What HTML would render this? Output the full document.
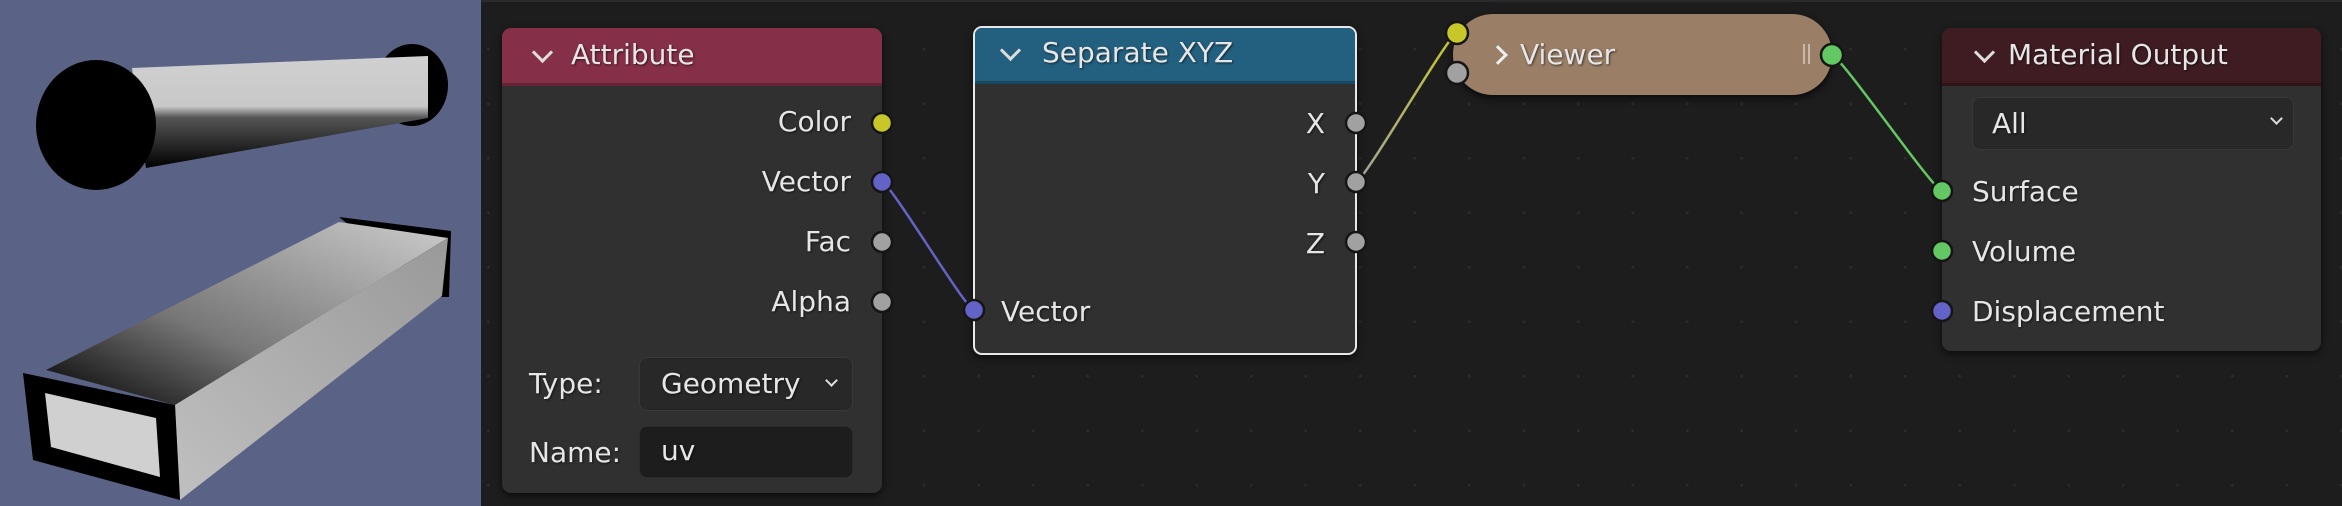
<!DOCTYPE html>
<html><head><meta charset="utf-8"><style>
html,body{margin:0;padding:0}
body{width:2342px;height:506px;position:relative;overflow:hidden;background:#1d1d1d;font-family:"DejaVu Sans","Liberation Sans",sans-serif;color:#e6e6e6}
.ed{position:absolute;left:481px;top:0;width:1861px;height:506px;background-color:#1d1d1d;
background-image:radial-gradient(circle,#2c2c2c 1.3px,transparent 1.6px);background-size:54.5px 54.5px;background-position:-20px 20px;border-top:2px solid #2a2a2a;box-sizing:border-box}
.node{position:absolute;background:#303030;border-radius:9px;overflow:hidden;box-shadow:0 3px 8px rgba(0,0,0,.6)}
.hd{position:absolute;left:0;top:0;right:0;height:55px;border-bottom:3px solid rgba(0,0,0,.25)}
.t{position:absolute;font-size:28px;white-space:nowrap;text-shadow:1px 1px 2px rgba(0,0,0,.6);line-height:1}
.chev{position:absolute;width:12px;height:12px;border-right:3px solid #ddd;border-bottom:3px solid #ddd;transform:rotate(45deg)}
.box{position:absolute;border-radius:8px}
</style></head><body>
<svg width="481" height="506" style="position:absolute;left:0;top:0">
<rect width="481" height="506" fill="#5a6385"/>
<defs>
<linearGradient id="cyl" x1="0" y1="0" x2="0" y2="1"><stop offset="0" stop-color="#d0d0d0"/><stop offset="0.45" stop-color="#c8c8c8"/><stop offset="0.55" stop-color="#555"/><stop offset="1" stop-color="#000"/></linearGradient>
<linearGradient id="top" x1="0" y1="1" x2="1" y2="0"><stop offset="0" stop-color="#000"/><stop offset="0.4" stop-color="#777"/><stop offset="1" stop-color="#ccc"/></linearGradient>
<linearGradient id="side" x1="0" y1="1" x2="1" y2="0"><stop offset="0" stop-color="#c0c0c0"/><stop offset="1" stop-color="#999"/></linearGradient>
</defs>
<ellipse cx="412" cy="85" rx="36" ry="41" fill="#000"/>
<polygon points="132,68 428,56 428,118 146,168" fill="url(#cyl)"/>
<ellipse cx="96" cy="125" rx="60" ry="65" fill="#000"/>
<polygon points="339,217 451,231 449,297 441,297" fill="#000"/>
<polygon points="46,370 339,222 448,238 175,405" fill="url(#top)"/>
<polygon points="175,405 448,238 442,296 180,500" fill="url(#side)"/>
<polygon points="23,373 175,405 180,500 33,460" fill="#000"/>
<polygon points="45,393 156,418 160,477 51,447" fill="#d0d0d0"/>
</svg>
<div class="ed"></div>

<!-- Attribute -->
<div class="node" style="left:502px;top:28px;width:380px;height:465px">
 <div class="hd" style="background:#862f48"></div>
 <div class="chev" style="left:33px;top:17px"></div>
 <div class="t" style="left:69px;top:13px">Attribute</div>
 <div class="t" style="right:31px;top:80px">Color</div>
 <div class="t" style="right:31px;top:140px">Vector</div>
 <div class="t" style="right:31px;top:200px">Fac</div>
 <div class="t" style="right:31px;top:260px">Alpha</div>
 <div class="t" style="left:27px;top:342px">Type:</div>
 <div class="box" style="left:137px;top:329px;width:214px;height:54px;background:#282828;border:1px solid #383838;box-sizing:border-box"></div>
 <div class="t" style="left:159px;top:342px">Geometry</div>
 <div class="chev" style="left:325px;top:348px;width:7px;height:7px;border-width:2px"></div>
 <div class="t" style="left:27px;top:411px">Name:</div>
 <div class="box" style="left:137px;top:398px;width:214px;height:52px;background:#1d1d1d;border:1px solid #2a2a2a;box-sizing:border-box"></div>
 <div class="t" style="left:159px;top:409px">uv</div>
</div>

<!-- Separate XYZ -->
<div class="node" style="left:973px;top:26px;width:384px;height:329px;border:2.5px solid #e8e8e8;box-sizing:border-box">
 <div class="hd" style="background:#23607f;height:53px"></div>
 <div class="chev" style="left:28px;top:15px"></div>
 <div class="t" style="left:67px;top:11px">Separate XYZ</div>
 <div class="t" style="right:30px;top:82px">X</div>
 <div class="t" style="right:30px;top:142px">Y</div>
 <div class="t" style="right:30px;top:202px">Z</div>
 <div class="t" style="left:26px;top:270px">Vector</div>
</div>

<!-- Viewer -->
<div class="node" style="left:1453px;top:14px;width:379px;height:81px;border-radius:40px;background:#9a7e66;box-shadow:0 3px 8px rgba(0,0,0,.7)">
 <div style="position:absolute;left:38px;top:34px;width:11px;height:11px;border-right:3px solid #eee;border-top:3px solid #eee;transform:rotate(45deg)"></div>
 <div class="t" style="left:67px;top:27px">Viewer</div>
 <div style="position:absolute;left:350px;top:30px;width:2px;height:20px;background:#c8b8a8"></div>
 <div style="position:absolute;left:355px;top:30px;width:2px;height:20px;background:#c8b8a8"></div>
</div>

<!-- Material Output -->
<div class="node" style="left:1942px;top:28px;width:379px;height:323px">
 <div class="hd" style="background:#3e1c22"></div>
 <div class="chev" style="left:35px;top:17px"></div>
 <div class="t" style="left:66px;top:13px">Material Output</div>
 <div class="box" style="left:30px;top:69px;width:322px;height:53px;background:#282828;border:1px solid #383838;box-sizing:border-box"></div>
 <div class="t" style="left:50px;top:82px">All</div>
 <div class="chev" style="left:330px;top:86px;width:7px;height:7px;border-width:2px"></div>
 <div class="t" style="left:30px;top:150px">Surface</div>
 <div class="t" style="left:30px;top:210px">Volume</div>
 <div class="t" style="left:30px;top:270px">Displacement</div>
</div>

<svg width="2342" height="506" style="position:absolute;left:0;top:0">
<defs><linearGradient id="yg" x1="1356" y1="182" x2="1457" y2="33" gradientUnits="userSpaceOnUse"><stop offset="0" stop-color="#a1a1a1"/><stop offset="1" stop-color="#c7c729"/></linearGradient></defs>
<path d="M882,182 C890,182 966,310 974,310" stroke="#6363c7" stroke-width="2.5" fill="none"/>
<path d="M1356,182 C1364,182 1449,33 1457,33" stroke="url(#yg)" stroke-width="2.5" fill="none"/>
<path d="M1832,55 C1840,55 1934,191 1942,191" stroke="#63c763" stroke-width="2.5" fill="none"/>
<g stroke="#151515" stroke-width="2.5">
<circle cx="882" cy="123" r="10" fill="#c7c729"/>
<circle cx="882" cy="182" r="10" fill="#6363c7"/>
<circle cx="882" cy="242" r="10" fill="#a1a1a1"/>
<circle cx="882" cy="302" r="10" fill="#a1a1a1"/>
<circle cx="1356" cy="123" r="10" fill="#a1a1a1"/>
<circle cx="1356" cy="182" r="10" fill="#a1a1a1"/>
<circle cx="1356" cy="242" r="10" fill="#a1a1a1"/>
<circle cx="974" cy="310" r="10" fill="#6363c7"/>
<circle cx="1457" cy="33" r="11" fill="#c7c729"/>
<circle cx="1457" cy="73" r="11" fill="#a1a1a1"/>
<circle cx="1832" cy="55" r="11" fill="#63c763"/>
<circle cx="1942" cy="191" r="10" fill="#63c763"/>
<circle cx="1942" cy="251" r="10" fill="#63c763"/>
<circle cx="1942" cy="311" r="10" fill="#6363c7"/>
</g>
</svg>
</body></html>
